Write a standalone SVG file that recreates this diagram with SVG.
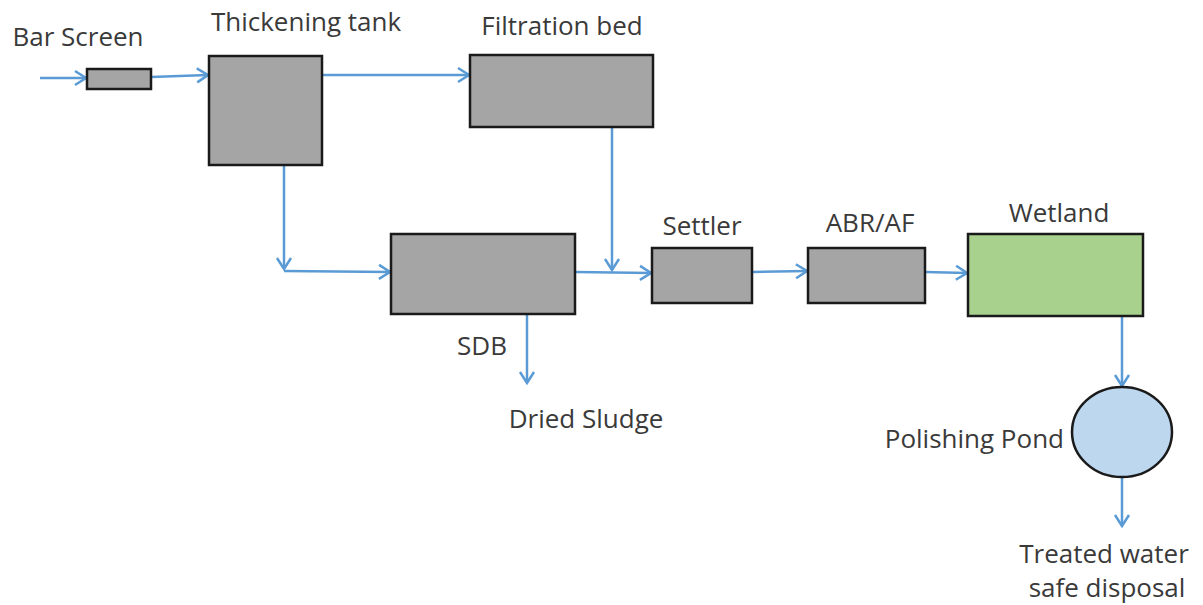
<svg xmlns="http://www.w3.org/2000/svg" width="1203" height="605" viewBox="0 0 1203 605">
<style>
.box{fill:#a5a5a5;stroke:#1a1a1a;stroke-width:2.5}
.green{fill:#a9d18e;stroke:#1a1a1a;stroke-width:2.5}
.pond{fill:#bdd7ee;stroke:#1a1a1a;stroke-width:2.5}
.lbl{font-family:"Open Sans","Liberation Sans",Arial,sans-serif;font-size:26px;fill:#3a3a3a;text-anchor:middle}
.c{fill:none;stroke:#5b9bd5;stroke-width:2.5}
</style>
<defs>
<marker id="ah" markerUnits="userSpaceOnUse" viewBox="-14 -9 16 18" refX="0" refY="0" markerWidth="16" markerHeight="18" orient="auto">
<path d="M-11,-7 L0,0 L-11,7" fill="none" stroke="#5b9bd5" stroke-width="2.5"/>
</marker>
</defs>
<rect width="1203" height="605" fill="#ffffff"/>
<g id="connectors">
<path class="c" marker-end="url(#ah)" d="M40,78 L86,78"/>
<path class="c" marker-end="url(#ah)" d="M151,77 L208,75"/>
<path class="c" marker-end="url(#ah)" d="M318,75 L469,75"/>
<path class="c" marker-end="url(#ah)" d="M612,127 L612,270"/>
<path class="c" marker-end="url(#ah)" d="M284,165 L284,269"/>
<path class="c" marker-end="url(#ah)" d="M284,271 L390,272"/>
<path class="c" marker-end="url(#ah)" d="M575,272 L651,273"/>
<path class="c" marker-end="url(#ah)" d="M527,314 L527,383"/>
<path class="c" marker-end="url(#ah)" d="M752,272 L807,271"/>
<path class="c" marker-end="url(#ah)" d="M925,272 L967,273"/>
<path class="c" marker-end="url(#ah)" d="M1122,316 L1122,386"/>
<path class="c" marker-end="url(#ah)" d="M1122,477 L1122,526"/>
</g>
<g id="bar-screen">
<rect class="box" x="87" y="69" width="64" height="20"/>
<text class="lbl" x="78" y="46">Bar Screen</text>
</g>
<g id="thickening-tank">
<rect class="box" x="209" y="56" width="113" height="109"/>
<text class="lbl" x="306" y="31">Thickening tank</text>
</g>
<g id="filtration-bed">
<rect class="box" x="470" y="55" width="183" height="72"/>
<text class="lbl" x="562" y="35">Filtration bed</text>
</g>
<g id="sdb">
<rect class="box" x="391" y="234" width="184" height="80"/>
<text class="lbl" x="482" y="355">SDB</text>
</g>
<g id="dried-sludge">
<text class="lbl" x="586" y="428">Dried Sludge</text>
</g>
<g id="settler">
<rect class="box" x="652" y="248" width="100" height="55"/>
<text class="lbl" x="702" y="235">Settler</text>
</g>
<g id="abr-af">
<rect class="box" x="808" y="248" width="117" height="55"/>
<text class="lbl" x="870" y="232">ABR/AF</text>
</g>
<g id="wetland">
<rect class="green" x="968" y="234" width="175" height="82"/>
<text class="lbl" x="1059" y="222">Wetland</text>
</g>
<g id="polishing-pond">
<ellipse class="pond" cx="1122" cy="432" rx="50" ry="45"/>
<text class="lbl" x="1064" y="448" style="text-anchor:end">Polishing Pond</text>
</g>
<g id="treated-water">
<text class="lbl" x="1104" y="563">Treated water</text>
<text class="lbl" x="1107" y="597">safe disposal</text>
</g>
</svg>
